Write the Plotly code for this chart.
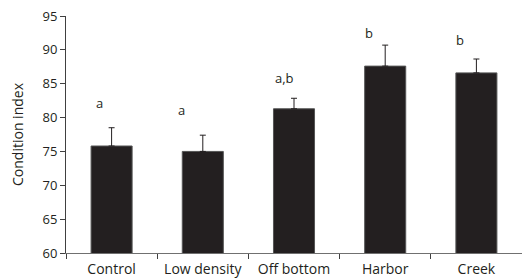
import plotly.graph_objects as go

categories = ["Control", "Low density", "Off bottom", "Harbor", "Creek"]
means = [75.8, 75.0, 81.3, 87.6, 86.6]
errors = [2.7, 2.4, 1.55, 3.1, 2.05]
letters = ["a", "a", "a,b", "b", "b"]
letter_y = [82.2, 81.1, 85.9, 92.5, 91.5]
letter_shift = [-12, -21, -10, -16, -16]
y_ticks = [60, 65, 70, 75, 80, 85, 90, 95]

ink = "#231f20"
fig = go.Figure()
fig.add_trace(go.Bar(
    x=categories, y=means, width=0.45,
    marker=dict(color=ink, line=dict(color="#555555", width=1)),
    error_y=dict(type="data", array=errors, arrayminus=[0] * len(errors),
                 symmetric=False, color=ink, thickness=1, width=3),
    hoverinfo="skip",
))
for c, t, ly, sh in zip(categories, letters, letter_y, letter_shift):
    fig.add_annotation(x=c, y=ly, text=t, showarrow=False, xshift=sh,
                       font=dict(size=13, color=ink))

fig.update_layout(
    width=522, height=279,
    margin=dict(l=66, r=0, t=16, b=26),
    plot_bgcolor="white", paper_bgcolor="white",
    font=dict(family="Open Sans", size=13, color=ink),
    showlegend=False,
)
fig.update_xaxes(
    type="category", tickson="boundaries", ticks="outside", ticklen=5,
    tickcolor="#404040", showline=True, linecolor="#707070", linewidth=1,
    showgrid=False, range=[-0.5, 4.5], tickfont=dict(size=14, color=ink),
    ticklabelstandoff=3, automargin=False,
)
fig.update_yaxes(
    range=[60, 95], tickvals=y_ticks, ticks="outside", ticklen=5,
    tickcolor="#404040", showline=True, linecolor="#404040", linewidth=1,
    showgrid=False, zeroline=False, tickfont=dict(size=13, color=ink),
    title=dict(text="Condition index", font=dict(size=14, color=ink)),
    automargin=False,
)
fig.write_html("out.html", config={"displayModeBar": False},
               post_script="document.body.style.margin='0';document.body.style.padding='0';")
